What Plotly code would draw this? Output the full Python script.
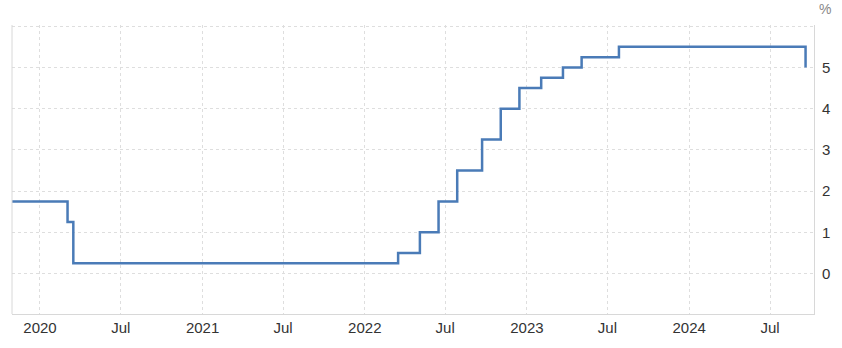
import plotly.graph_objects as go

dates = ["2019-10-30", "2020-03-03", "2020-03-16", "2022-03-17", "2022-05-05",
         "2022-06-16", "2022-07-28", "2022-09-22", "2022-11-03", "2022-12-15",
         "2023-02-02", "2023-03-23", "2023-05-04", "2023-07-27", "2024-09-19"]
rates = [1.75, 1.25, 0.25, 0.50, 1.00, 1.75, 2.50, 3.25, 4.00, 4.50,
         4.75, 5.00, 5.25, 5.50, 5.00]

x_tickvals = ["2020-01-01", "2020-07-01", "2021-01-01", "2021-07-01", "2022-01-01",
              "2022-07-01", "2023-01-01", "2023-07-01", "2024-01-01", "2024-07-01"]
x_ticktext = ["2020", "Jul", "2021", "Jul", "2022", "Jul", "2023", "Jul", "2024", "Jul"]
y_tickvals = [0, 1, 2, 3, 4, 5, 6]
y_ticktext = ["0", "1", "2", "3", "4", "5", ""]

fig = go.Figure()
fig.add_trace(go.Scatter(x=dates, y=rates, mode="lines", line_shape="hv",
                         line=dict(color="#4a7bb7", width=2.5), hoverinfo="skip"))

fig.update_layout(
    width=842, height=348,
    margin=dict(l=12, r=28, t=25, b=27),
    paper_bgcolor="white", plot_bgcolor="white",
    showlegend=False,
    font=dict(family="Liberation Sans, Arial, sans-serif", size=15, color="#333333"),
    xaxis=dict(range=["2019-10-30", "2024-10-08"], tickvals=x_tickvals, ticktext=x_ticktext,
               showgrid=True, gridcolor="#dedede", griddash="dot", gridwidth=1,
               showline=True, linecolor="#d8d8d8", linewidth=1, zeroline=False,
               ticks="", tickfont=dict(size=15, color="#333333")),
    yaxis=dict(range=[-0.98, 6.03], side="right", tickvals=y_tickvals, ticktext=y_ticktext,
               showgrid=True, gridcolor="#dedede", griddash="dot", gridwidth=1,
               showline=True, linecolor="#d8d8d8", linewidth=1, zeroline=False,
               ticks="", ticklabelstandoff=4, tickfont=dict(size=15, color="#333333")),
    shapes=[dict(type="line", xref="paper", yref="paper", x0=0, x1=0, y0=0, y1=1,
                 line=dict(color="#d8d8d8", width=1))],
    annotations=[dict(text="%", xref="paper", yref="paper", x=1.0, y=1.0,
                      xshift=3, yshift=16, showarrow=False, xanchor="left", yanchor="middle",
                      font=dict(size=14, color="#888888"))],
)

fig.write_html("out.html")
